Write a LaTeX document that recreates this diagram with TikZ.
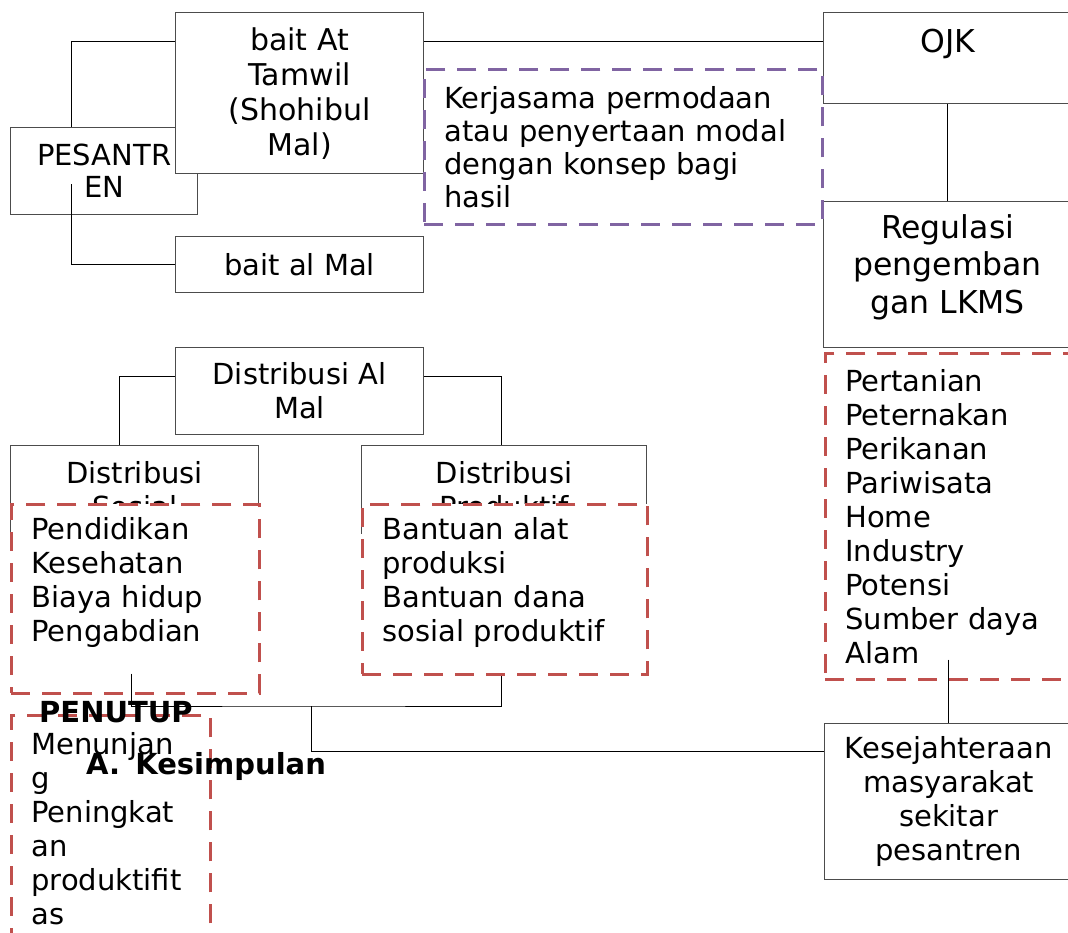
\documentclass[tikz,border=0pt]{standalone}
\usepackage{fontspec}
\setmainfont{DejaVu Sans}
\usepackage{xcolor}
\usepackage{tikz}
\definecolor{dashred}{RGB}{192, 80, 77}
\definecolor{dashpurple}{RGB}{128, 100, 162}
\hyphenpenalty=10000

\begin{document}
\begin{tikzpicture}[x=1pt, y=-1pt,
    box/.style={draw=black!70, line width=1.2pt, fill=white, anchor=north west,
        inner sep=0pt, align=center, font=\fontsize{29}{34}\selectfont},
    listbox/.style={draw=dashred, line width=2.7pt, dash pattern=on 19pt off 12pt,
        fill=white, anchor=north west, inner xsep=20pt, inner ysep=0pt, align=left,
        font=\fontsize{29}{34}\selectfont},
    link/.style={black, line width=0.9pt},
    heading/.style={anchor=base west, inner sep=0pt, font=\fontsize{29}{34}\selectfont\bfseries}]
    \path[fill=white, use as bounding box] (0,0) rectangle (1068,933);

    \node[box, minimum width=187, minimum height=87, font=\fontsize{29}{32}\selectfont] (pesantren) at (10,127) {PESANTR\\EN};
    \node[box, minimum width=248, minimum height=161, font=\fontsize{30}{35}\selectfont] (tamwil) at (175,12) {bait At\\Tamwil\\(Shohibul\\Mal)};
    \node[box, minimum width=248, minimum height=56] (baitmal) at (175,236) {bait al Mal};
    \draw[link] ([xshift=61]pesantren.north west) |- ([yshift=-29]tamwil.north west);
    \draw[link] ([xshift=61, yshift=31]pesantren.south west) |- (baitmal.west);

    \node[box, minimum width=248, minimum height=91, font=\fontsize{31.5}{37.5}\selectfont] (ojk) at (823,12) {OJK\\[-2pt]\mbox{}};
    \node[box, minimum width=248, minimum height=146, font=\fontsize{31.5}{37.5}\selectfont] (regulasi) at (823,201) {Regulasi\\pengemban\\gan LKMS\\[-16pt]\mbox{}};
    \node[listbox, draw=dashpurple, minimum width=398, minimum height=155, text width=358, font=\fontsize{29}{33}\selectfont] (kerjasama) at (423,68) {Kerjasama permodaan\\atau penyertaan modal\\dengan konsep bagi\\hasil};
    \draw[link] ([yshift=-29]tamwil.north east) -- ([yshift=-29]ojk.north west);
    \draw[link] (ojk.south) -- (regulasi.north);

    \node[listbox, minimum width=260, minimum height=326, text width=220] (sektor) at (824,352) {Pertanian\\Peternakan\\Perikanan\\Pariwisata\\Home\\Industry\\Potensi\\Sumber daya\\Alam};
    \node[box, minimum width=248, minimum height=156] (sejahtera) at (824,723) {Kesejahteraan\\masyarakat\\sekitar\\pesantren};
    \draw[link] ([yshift=21]sektor.south -| sejahtera.north) -- (sejahtera.north);

    \node[box, minimum width=248, minimum height=87] (dalmal) at (175,347) {Distribusi Al\\Mal};
    \node[box, minimum width=248, minimum height=88] (dsosial) at (10,445) {Distribusi\\Sosial};
    \node[box, minimum width=285, minimum height=88] (dproduktif) at (361,445) {Distribusi\\Produktif};
    \draw[link] ([yshift=-29]dalmal.north west) -| ([xshift=109]dsosial.north west);
    \draw[link] ([yshift=-29]dalmal.north east) -| ([xshift=140]dproduktif.north west);

    \node[listbox, minimum width=248, minimum height=189, text width=208] (sosial) at (10,503) {Pendidikan\\Kesehatan\\Biaya hidup\\Pengabdian\\[4pt]\mbox{}};
    \node[listbox, minimum width=285, minimum height=170, text width=245] (produktif) at (361,503) {Bantuan alat\\produksi\\Bantuan dana\\sosial produktif\\[-15pt]\mbox{}};
    \coordinate (bus) at (311,706);
    \draw[link] ([xshift=121, yshift=21]sosial.south west) |- (bus) -| ([xshift=140]produktif.south west);
    \draw[link] (bus) |- ([yshift=-28]sejahtera.north west);

    \node[listbox, minimum width=199, minimum height=226, text width=159] (manfaat) at (10,714) {Menunjan\\g\\Peningkat\\an\\produktifit\\as};
    \node[heading] (penutup) at (39,722) {PENUTUP};
    \node[heading] (kesimpulan) at (86,774) {A.\hspace{5pt} Kesimpulan};
\end{tikzpicture}
\end{document}
